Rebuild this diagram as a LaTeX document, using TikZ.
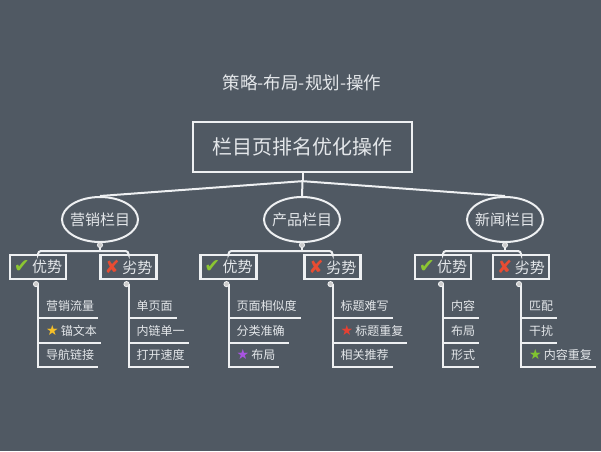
\documentclass[tikz,border=0pt]{standalone}
\usepackage{fontspec}
\setmainfont{Noto Sans CJK SC}
\newfontfamily\iconfont{DejaVu Sans}
\usepackage{xcolor}
\usepackage{tikz}
\usetikzlibrary{
  shapes.geometric,
  positioning,
  calc
}
\definecolor{slatebg}{RGB}{80,89,99}
\definecolor{paleline}{RGB}{238,240,242}
\definecolor{paletext}{RGB}{228,231,234}
\definecolor{tickgreen}{RGB}{140,198,50}
\definecolor{crossred}{RGB}{232,76,50}
\definecolor{stargold}{RGB}{246,192,40}
\definecolor{starpurple}{RGB}{168,84,226}
\definecolor{starred}{RGB}{230,64,50}
\definecolor{stargreen}{RGB}{128,196,48}
\newcommand\tickicon{{\iconfont\fontsize{19}{19}\selectfont\textcolor{tickgreen}{✔}}}
\newcommand\crossicon{{\iconfont\fontsize{18}{18}\selectfont\textcolor{crossred}{✘}}}
\newcommand\staricon[1]{{\iconfont\fontsize{14}{14}\selectfont\textcolor{#1}{★}}\,}

\begin{document}
\begin{tikzpicture}[x=1pt, y=-1pt,
  every node/.style={text=paletext},
  link/.style={draw=paleline, line width=2pt},
  rootbox/.style={rectangle, draw=paleline, line width=2.3pt, minimum width=219pt,
    minimum height=50pt, font=\fontsize{20}{24}\selectfont},
  column/.style={ellipse, draw=paleline, line width=2pt, minimum width=76pt,
    minimum height=45pt, inner xsep=-4pt, inner ysep=0pt, font=\fontsize{15}{18}\selectfont},
  tagbox/.style={rectangle, draw=paleline, line width=2.2pt, minimum width=56pt,
    minimum height=24pt, inner sep=0pt, font=\fontsize{15}{18}\selectfont},
  item/.style={anchor=west, inner xsep=0pt, inner ysep=0pt, minimum height=24pt,
    font=\fontsize{12}{14}\selectfont},
  knot/.style={fill=gray!40, draw=paleline, line width=0.8pt}
]
  \fill[slatebg] (0,0) rectangle (601,451);

  \node[font=\fontsize{17.5}{20}\selectfont] (title) at (302,83) {策略-布局-规划-操作};
  \node[rootbox] (root) at (302.5,147) {栏目页排名优化操作};

  \node[column] (m1) at (100,219.5) {营销栏目};
  \node[column] (m2) at (302,219.5) {产品栏目};
  \node[column] (m3) at (505,219.5) {新闻栏目};

  \draw[link] (root.south) -- ++(0,8) coordinate (hub);
  \draw[link] (hub) -- (m1.north);
  \draw[link] (hub) -- (m2.north);
  \draw[link] (hub) -- (m3.north);

  \node[tagbox] (g1a) at (38,267) {\tickicon\,优势};
  \node[tagbox] (g1b) at (128.5,267) {\crossicon\,劣势};
  \node[tagbox] (g2a) at (228.5,267) {\tickicon\,优势};
  \node[tagbox] (g2b) at (332.5,267) {\crossicon\,劣势};
  \node[tagbox] (g3a) at (443,267) {\tickicon\,优势};
  \node[tagbox] (g3b) at (521,267) {\crossicon\,劣势};

  \draw[link, rounded corners=3pt] (g1a.north) |- ($(m1.south)+(0,8)$) -| (g1b.north);
  \draw[link, rounded corners=3pt] (g2a.north) |- ($(m2.south)+(0,8)$) -| (g2b.north);
  \draw[link, rounded corners=3pt] (g3a.north) |- ($(m3.south)+(0,8)$) -| (g3b.north);
  \draw[link] (m1.south) -- ++(0,8);
  \draw[link] (m2.south) -- ++(0,8);
  \draw[link] (m3.south) -- ++(0,8);
  \filldraw[knot] ($(m1.south)+(0,2)$) circle (2.6pt);
  \filldraw[knot] ($(m2.south)+(0,2)$) circle (2.6pt);
  \filldraw[knot] ($(m3.south)+(0,2)$) circle (2.6pt);

  \node[item] (g1a-1) at ($(g1a.south)+(8,26)$) {营销流量};
  \node[item, below=0pt of g1a-1.south west, anchor=north west] (g1a-2) {\staricon{stargold}锚文本};
  \node[item, below=0pt of g1a-2.south west, anchor=north west] (g1a-3) {导航链接};

  \node[item] (g1b-1) at ($(g1b.south)+(8,26)$) {单页面};
  \node[item, below=0pt of g1b-1.south west, anchor=north west] (g1b-2) {内链单一};
  \node[item, below=0pt of g1b-2.south west, anchor=north west] (g1b-3) {打开速度};

  \node[item] (g2a-1) at ($(g2a.south)+(8,26)$) {页面相似度};
  \node[item, below=0pt of g2a-1.south west, anchor=north west] (g2a-2) {分类准确};
  \node[item, below=0pt of g2a-2.south west, anchor=north west] (g2a-3) {\staricon{starpurple}布局};

  \node[item] (g2b-1) at ($(g2b.south)+(8,26)$) {标题难写};
  \node[item, below=0pt of g2b-1.south west, anchor=north west] (g2b-2) {\staricon{starred}标题重复};
  \node[item, below=0pt of g2b-2.south west, anchor=north west] (g2b-3) {相关推荐};

  \node[item] (g3a-1) at ($(g3a.south)+(8,26)$) {内容};
  \node[item, below=0pt of g3a-1.south west, anchor=north west] (g3a-2) {布局};
  \node[item, below=0pt of g3a-2.south west, anchor=north west] (g3a-3) {形式};

  \node[item] (g3b-1) at ($(g3b.south)+(8,26)$) {匹配};
  \node[item, below=0pt of g3b-1.south west, anchor=north west] (g3b-2) {干扰};
  \node[item, below=0pt of g3b-2.south west, anchor=north west] (g3b-3) {\staricon{stargreen}内容重复};

  \draw[link] ($(g1a.south)+(0,4)$) -- (g1a-3.south -| g1a.south) -- ([xshift=4pt]g1a-3.south east);
  \draw[link] (g1a-1.south -| g1a.south) -- ([xshift=4pt]g1a-1.south east);
  \draw[link] (g1a-2.south -| g1a.south) -- ([xshift=4pt]g1a-2.south east);

  \draw[link] ($(g1b.south)+(0,4)$) -- (g1b-3.south -| g1b.south) -- ([xshift=4pt]g1b-3.south east);
  \draw[link] (g1b-1.south -| g1b.south) -- ([xshift=4pt]g1b-1.south east);
  \draw[link] (g1b-2.south -| g1b.south) -- ([xshift=4pt]g1b-2.south east);

  \draw[link] ($(g2a.south)+(0,4)$) -- (g2a-3.south -| g2a.south) -- ([xshift=4pt]g2a-3.south east);
  \draw[link] (g2a-1.south -| g2a.south) -- ([xshift=4pt]g2a-1.south east);
  \draw[link] (g2a-2.south -| g2a.south) -- ([xshift=4pt]g2a-2.south east);

  \draw[link] ($(g2b.south)+(0,4)$) -- (g2b-3.south -| g2b.south) -- ([xshift=4pt]g2b-3.south east);
  \draw[link] (g2b-1.south -| g2b.south) -- ([xshift=4pt]g2b-1.south east);
  \draw[link] (g2b-2.south -| g2b.south) -- ([xshift=4pt]g2b-2.south east);

  \draw[link] ($(g3a.south)+(0,4)$) -- (g3a-3.south -| g3a.south) -- ([xshift=4pt]g3a-3.south east);
  \draw[link] (g3a-1.south -| g3a.south) -- ([xshift=4pt]g3a-1.south east);
  \draw[link] (g3a-2.south -| g3a.south) -- ([xshift=4pt]g3a-2.south east);

  \draw[link] ($(g3b.south)+(0,4)$) -- (g3b-3.south -| g3b.south) -- ([xshift=4pt]g3b-3.south east);
  \draw[link] (g3b-1.south -| g3b.south) -- ([xshift=4pt]g3b-1.south east);
  \draw[link] (g3b-2.south -| g3b.south) -- ([xshift=4pt]g3b-2.south east);

  \filldraw[knot] ($(g1a.south)+(-2,4)$) circle (2.6pt);
  \filldraw[knot] ($(g1b.south)+(-2,4)$) circle (2.6pt);
  \filldraw[knot] ($(g2a.south)+(-2,4)$) circle (2.6pt);
  \filldraw[knot] ($(g2b.south)+(-2,4)$) circle (2.6pt);
  \filldraw[knot] ($(g3a.south)+(-2,4)$) circle (2.6pt);
  \filldraw[knot] ($(g3b.south)+(-2,4)$) circle (2.6pt);
\end{tikzpicture}
\end{document}
